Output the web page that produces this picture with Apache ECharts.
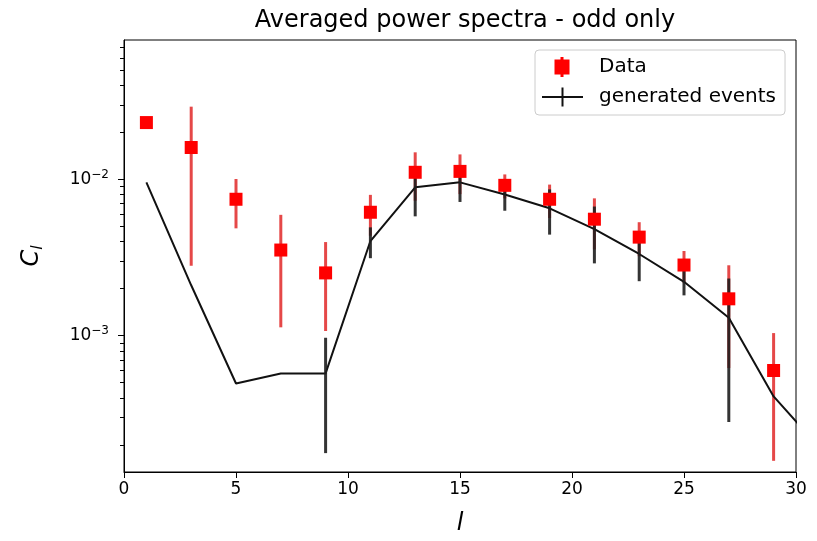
<!DOCTYPE html>
<html>
<head>
<meta charset="utf-8">
<script src="https://cdn.jsdelivr.net/npm/echarts@6/dist/echarts.min.js"></script>
<style>html,body{margin:0;padding:0;background:#fff;}#c{width:817px;height:541px;}</style>
</head>
<body>
<div id="c"></div>
<script>
// ---- data ----
const ells      = [1, 3, 5, 7, 9, 11, 13, 15, 17, 19, 21, 23, 25, 27, 29];
const dataC     = [0.0231, 0.0160, 0.00746, 0.00353, 0.00252, 0.00616, 0.0111, 0.01125, 0.00916, 0.00746, 0.00556, 0.00427, 0.00283, 0.00172, 0.000598];
const dataErr   = [0, 0.0132, 0.0026, 0.0024, 0.00145, 0.0018, 0.0038, 0.0032, 0.0016, 0.0018, 0.0020, 0.00105, 0.00065, 0.0011, 0.00044];
const genEll    = [1, 3, 5, 7, 9, 11, 13, 15, 17, 19, 21, 23, 25, 27, 29, 31];
const genC      = [0.00957, 0.0021, 0.000494, 0.000573, 0.000573, 0.00403, 0.0089, 0.00957, 0.0080, 0.00653, 0.0048, 0.00333, 0.00221, 0.0013, 0.000408, 0.000196];
const genErr    = [0, 0, 0, 0, 0.000396, 0.0009, 0.0031, 0.0024, 0.0017, 0.0021, 0.0019, 0.0011, 0.0004, 0.00102, 0, 0];
const xTicks    = [0, 5, 10, 15, 20, 25, 30];
const yMajor    = [0.001, 0.01];
const yMinor    = [2e-4,3e-4,4e-4,5e-4,6e-4,7e-4,8e-4,9e-4,2e-3,3e-3,4e-3,5e-3,6e-3,7e-3,8e-3,9e-3,2e-2,3e-2,4e-2,5e-2,6e-2,7e-2];

const FONT = 'DejaVu Sans';
const yMin = 1.34e-4, yMax = 0.078;

const dataPts = ells.map((l, i) => [l, dataC[i]]);
const dataBars = ells.map((l, i) => [l, dataC[i] - dataErr[i], dataC[i] + dataErr[i]]).filter((d, i) => dataErr[i] > 0);
const genPts = genEll.map((l, i) => [l, genC[i]]);
const genBars = genEll.map((l, i) => [l, genC[i] - genErr[i], genC[i] + genErr[i]]).filter((d, i) => genErr[i] > 0);

function errRender(color) {
  return function (params, api) {
    const x = api.value(0);
    const p1 = api.coord([x, api.value(1)]);
    const p2 = api.coord([x, api.value(2)]);
    return {type: 'line', shape: {x1: p1[0], y1: p1[1], x2: p2[0], y2: p2[1]},
            style: {stroke: color, lineWidth: 3}};
  };
}

const chart = echarts.init(document.getElementById('c'), null, {renderer: 'canvas'});
chart.setOption({
  animation: false,
  backgroundColor: '#fff',
  textStyle: {fontFamily: FONT},
  title: {
    text: 'Averaged power spectra - odd only',
    left: 460, top: 4, textAlign: 'center',
    textStyle: {fontFamily: FONT, fontSize: 24, fontWeight: 'normal', color: '#000'}
  },
  legend: {
    orient: 'vertical', left: 535, top: 50,
    padding: [7, 9, 8, 7], itemGap: 10, itemWidth: 52, itemHeight: 20,
    borderColor: '#ccc', borderWidth: 1, borderRadius: 4, backgroundColor: '#fff',
    textStyle: {fontFamily: FONT, fontSize: 20, color: '#000'},
    data: [
      {name: 'Data', icon: 'path://M0,10 L0.01,10 L0.01,10.01 Z M52,10 L51.99,10 L51.99,10.01 Z M18.5,0 L21.5,0 L21.5,2.5 L27.5,2.5 L27.5,17.5 L21.5,17.5 L21.5,20 L18.5,20 L18.5,17.5 L12.5,17.5 L12.5,2.5 L18.5,2.5 Z'},
      {name: 'generated events', icon: 'path://M52,10 L51.99,10 L51.99,10.01 Z M0,9 L41,9 L41,11 L0,11 Z M19.5,0.5 L21.5,0.5 L21.5,19.5 L19.5,19.5 Z M0,0 L0.01,0 L0.01,0.01 Z M0,20 L0.01,20 L0.01,19.99 Z'}
    ]
  },
  grid: {left: 124, top: 40, width: 672, height: 434, show: true, borderColor: '#000', borderWidth: 1, containLabel: false},
  xAxis: {
    type: 'value', min: 0, max: 30, interval: 5,
    name: '{i|l}', nameLocation: 'middle', nameGap: 40,
    nameTextStyle: {rich: {i: {fontFamily: FONT, fontStyle: 'italic', fontSize: 24, color: '#000'}}},
    axisLine: {show: true, lineStyle: {color: '#000', width: 1}},
    axisTick: {show: true, inside: false, length: 6, lineStyle: {color: '#000'}},
    axisLabel: {show: true, margin: 9, fontFamily: FONT, fontSize: 17, color: '#000'},
    splitLine: {show: false}
  },
  yAxis: [{
    type: 'log', logBase: 10, min: yMin, max: yMax,
    name: '{c|C}{s|l}', nameLocation: 'middle', nameGap: 78, nameRotate: 90,
    nameTextStyle: {rich: {
      c: {fontFamily: FONT, fontStyle: 'italic', fontSize: 24, color: '#000'},
      s: {fontFamily: FONT, fontStyle: 'italic', fontSize: 16, color: '#000', padding: [12, 0, 0, 0]}
    }},
    axisLine: {show: true, lineStyle: {color: '#000', width: 1}},
    axisTick: {show: true, inside: false, length: 6, customValues: yMajor, lineStyle: {color: '#000'}},
    axisLabel: {
      show: true, margin: 15, customValues: yMajor,
      formatter: function (v) { return '{b|10}{s|' + '\u2212' + Math.round(-Math.log10(v)) + '}'; },
      rich: {
        b: {fontFamily: FONT, fontSize: 17, color: '#000'},
        s: {fontFamily: FONT, fontSize: 12, color: '#000', padding: [0, 0, 10, 0]}
      }
    },
    splitLine: {show: false}
  }, {
    type: 'log', logBase: 10, min: yMin, max: yMax, position: 'left',
    axisLine: {show: false},
    axisTick: {show: true, inside: false, length: 4, customValues: yMinor, lineStyle: {color: '#000', width: 1}},
    axisLabel: {show: false},
    splitLine: {show: false}
  }],
  series: [
    {
      name: 'dataErr', type: 'custom', renderItem: errRender('rgba(224,40,40,0.85)'),
      data: dataBars, encode: {x: 0, y: [1, 2]}, clip: true, z: 1, silent: true
    },
    {
      name: 'generated events', type: 'line', data: genPts,
      symbol: 'none', lineStyle: {color: '#111', width: 2}, itemStyle: {color: '#111'},
      clip: true, z: 2
    },
    {
      name: 'genErr', type: 'custom', renderItem: errRender('rgba(30,30,30,0.9)'),
      data: genBars, encode: {x: 0, y: [1, 2]}, clip: true, z: 3, silent: true
    },
    {
      name: 'Data', type: 'scatter', data: dataPts,
      symbol: 'rect', symbolSize: 13, itemStyle: {color: '#ff0000', opacity: 1}, z: 4
    }
  ]
});
</script>
</body>
</html>
